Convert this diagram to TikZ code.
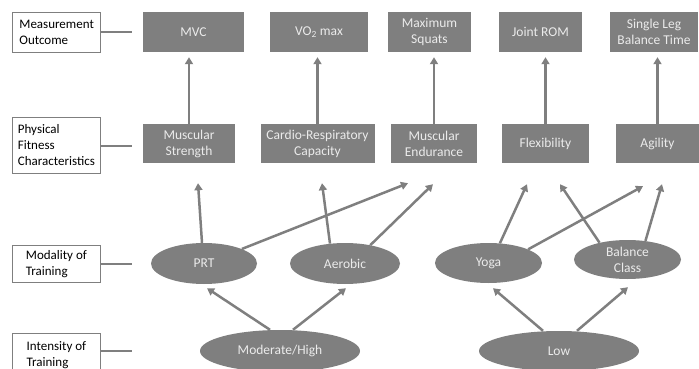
\documentclass[tikz,border=0pt]{standalone}
\usepackage{fontspec}
\setmainfont{Carlito}
\usetikzlibrary{arrows.meta,calc,shapes.geometric}
\definecolor{boxgray}{HTML}{7F7F7F}
\definecolor{txtlight}{HTML}{EBEBEB}
\begin{document}
\begin{tikzpicture}[x=1pt,y=-1pt,
  every node/.style={font=\fontsize{13}{16}\selectfont},
  graybox/.style={rectangle,fill=boxgray,text=txtlight,align=center,inner sep=0pt,
    minimum height=39pt,font=\fontsize{13.5}{16}\selectfont},
  grayoval/.style={ellipse,fill=boxgray,text=txtlight,align=center,inner sep=0pt,
    font=\fontsize{13.5}{16}\selectfont},
  levelbox/.style={rectangle,draw=boxgray,line width=0.8pt,fill=white,text=black,
    align=left,anchor=north west,inner xsep=7pt,inner ysep=0pt,minimum width=88pt},
  tick/.style={draw=boxgray,line width=1.2pt},
  arr/.style={draw=boxgray,line width=2.5pt,-{Triangle[width=8pt,length=7pt]}}]
\useasboundingbox (0,0) rectangle (699,369);

% level labels on the left
\node[levelbox,minimum height=40pt] (lvmeas) at (12,12) {Measurement\\Outcome};
\node[levelbox,minimum height=56pt,inner xsep=1.5pt] (lvphys) at (12,117) {Physical\\Fitness\\Characteristics};
\node[levelbox,minimum height=37pt] (lvmod) at (12,245) {Modality of\\Training};
\node[levelbox,minimum height=44pt] (lvint) at (12,333) {Intensity of\\Training};

\coordinate (tkmeas) at (132,32);
\coordinate (tkphys) at (132,146);
\coordinate (tkmod) at (132,264);
\coordinate (tkint) at (132,351);
\draw[tick] (lvmeas.east |- tkmeas) -- (tkmeas);
\draw[tick] (lvphys.east |- tkphys) -- (tkphys);
\draw[tick] (lvmod.east |- tkmod) -- (tkmod);
\draw[tick] (lvint.east |- tkint) -- (tkint);

% measurement outcomes
\node[graybox,minimum width=101pt,minimum height=40pt] (mvc) at (193.5,32) {MVC};
\node[graybox,minimum width=98pt,minimum height=40pt] (vo2) at (319,32) {VO\textsubscript{2} max};
\node[graybox,minimum width=83pt,minimum height=40pt] (msq) at (429.5,32) {Maximum\\Squats};
\node[graybox,minimum width=83pt,minimum height=40pt] (rom) at (540.5,32) {Joint ROM};
\node[graybox,minimum width=88pt,minimum height=40pt] (slb) at (654,32) {Single Leg\\Balance Time};

% fitness characteristics
\node[graybox,minimum width=92pt] (mstr) at (189,143.5) {Muscular\\Strength};
\node[graybox,minimum width=114pt] (crc) at (317.5,143.5) {Cardio-Respiratory\\Capacity};
\node[graybox,minimum width=86pt] (mend) at (434,143.5) {Muscular\\Endurance};
\node[graybox,minimum width=87pt] (flex) at (545.5,143.5) {Flexibility};
\node[graybox,minimum width=84pt] (agil) at (657.5,143.5) {Agility};

% training modalities
\node[grayoval,minimum width=106pt,minimum height=41pt] (prt) at (204,263.5) {PRT};
\node[grayoval,minimum width=110pt,minimum height=41pt] (aer) at (345,263.5) {Aerobic};
\node[grayoval,minimum width=107pt,minimum height=40pt] (yoga) at (488.5,263) {Yoga};
\node[grayoval,minimum width=107pt,minimum height=39pt] (bal) at (627.5,259.5) {Balance\\Class};

% training intensities
\node[grayoval,minimum width=160pt,minimum height=42pt] (mh) at (280,351) {Moderate/High};
\node[grayoval,minimum width=160pt,minimum height=40pt] (low) at (559,351) {Low};

% characteristic -> outcome
\draw[arr] (mstr.north) -- ($(mstr.north |- mvc.south)+(0,5)$);
\draw[arr] (crc.north) -- ($(crc.north |- vo2.south)+(0,5)$);
\draw[arr] (mend.north) -- ($(mend.north |- msq.south)+(0,5)$);
\draw[arr] (flex.north) -- ($(flex.north |- rom.south)+(0,5)$);
\draw[arr] (agil.north) -- ($(agil.north |- slb.south)+(0,5)$);

% modality -> characteristic
\draw[arr] ([xshift=-2pt]prt.north) -- ($(mstr.south)+(9,20)$);
\draw[arr] (prt.21) -- ($(mend.south)+(-26,20)$);
\draw[arr] (aer.127) -- ($(crc.south)+(4.5,20)$);
\draw[arr] (aer.36) -- ($(mend.south)+(-1,21)$);
\draw[arr] (yoga.60) -- ($(flex.south)+(-18.5,21)$);
\draw[arr] (yoga.19) -- ($(agil.south)+(-14.5,23)$);
\draw[arr] (bal.149) -- ($(flex.south)+(14.5,21)$);
\draw[arr] (bal.46) -- ($(agil.south)+(4.5,21)$);

% intensity -> modality
\draw[arr] ([xshift=-10pt]mh.north) -- ($(prt.south)+(3,4)$);
\draw[arr] ([xshift=13pt]mh.north) -- ($(aer.south)+(1,4)$);
\draw[arr] ([xshift=-16pt]low.north) -- ($(yoga.south)+(4.5,5)$);
\draw[arr] ([xshift=18pt]low.north) -- ($(bal.south)+(0.5,8)$);
\end{tikzpicture}
\end{document}
